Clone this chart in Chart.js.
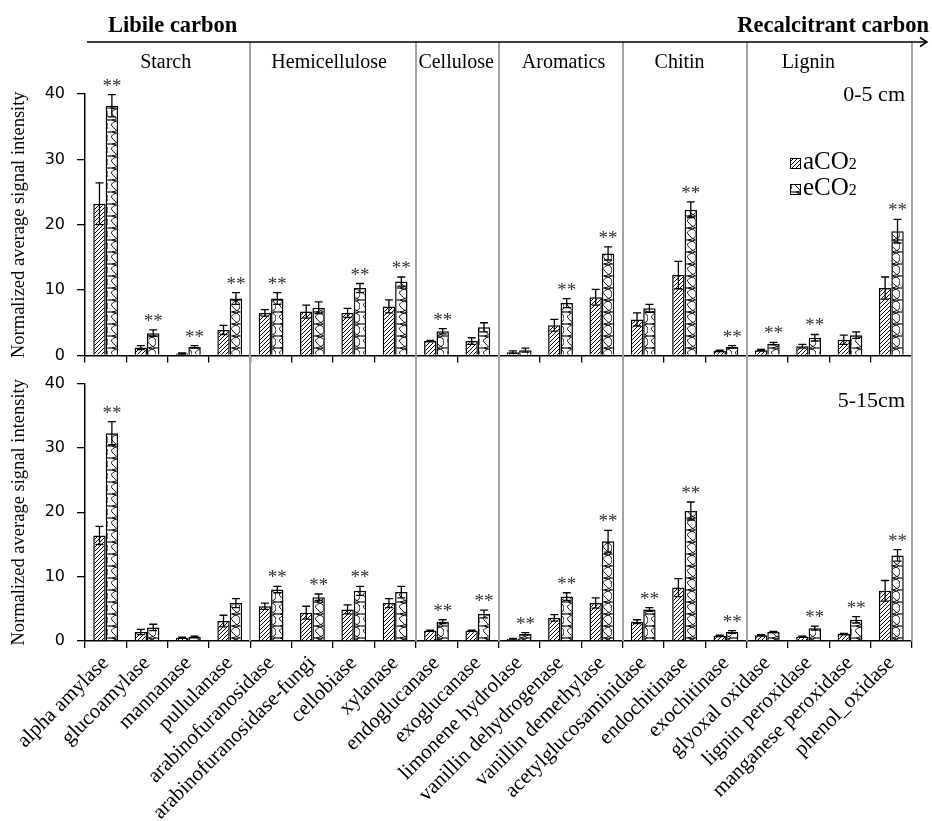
<!DOCTYPE html>
<html>
<head>
<meta charset="utf-8">
<script src="https://cdn.jsdelivr.net/npm/chart.js@4.4.1/dist/chart.umd.min.js"></script>
<style>
  body { margin: 0; background: #fff; }
  #wrap { position: relative; width: 932px; height: 821px; }
  canvas { position: absolute; left: 0; }
</style>
</head>
<body>
<div id="wrap">
  <!-- top canvas runs 15px under the bottom one: the y tick padding reserves that much below the axis -->
  <canvas id="topChart" width="932" height="377" style="top:0;width:932px;height:377px"></canvas>
  <canvas id="bottomChart" width="932" height="459" style="top:362px;width:932px;height:459px"></canvas>
</div>
<script>
const enzymes = ["alpha amylase", "glucoamylase", "mannanase", "pullulanase",
  "arabinofuranosidase", "arabinofuranosidase-fungi", "cellobiase", "xylanase",
  "endoglucanase", "exoglucanase",
  "limonene hydrolase", "vanillin dehydrogenase", "vanillin demethylase",
  "acetylglucosaminidase", "endochitinase", "exochitinase",
  "glyoxal oxidase", "lignin peroxidase", "manganese peroxidase", "phenol_oxidase"];
const groups = ["Starch", "Hemicellulose", "Cellulose", "Aromatics", "Chitin", "Lignin"];
const groupSizes = [4, 4, 2, 3, 3, 4];
const seriesNames = ["aCO", "eCO"];   // subscript 2 drawn separately

// 0-5 cm
const aco2Top    = [23.2, 1.2, 0.3, 3.9, 6.5, 6.7, 6.5, 7.5, 2.2, 2.2, 0.5, 4.6, 8.9, 5.5, 12.3, 0.7, 0.8, 1.4, 2.4, 10.3];
const aco2TopErr = [3.2, 0.3, 0.1, 0.7, 0.5, 1.0, 0.7, 1.0, 0.1, 0.5, 0.2, 0.9, 1.2, 1.0, 2.1, 0.1, 0.1, 0.3, 0.7, 1.7];
const eco2Top    = [38.2, 3.4, 1.3, 8.7, 8.7, 7.3, 10.3, 11.3, 3.7, 4.3, 0.8, 8.0, 15.6, 7.2, 22.3, 1.3, 1.8, 2.7, 3.1, 19.0];
const eco2TopErr = [1.7, 0.5, 0.2, 0.9, 0.9, 0.9, 0.7, 0.7, 0.4, 0.7, 0.3, 0.7, 1.0, 0.6, 1.2, 0.2, 0.2, 0.5, 0.5, 1.8];
const sigTop     = [1, 1, 1, 1, 1, 0, 1, 1, 1, 0, 0, 1, 1, 0, 1, 1, 1, 1, 0, 1];

// 5-15 cm
const aco2Bot    = [16.4, 1.4, 0.5, 3.1, 5.4, 4.4, 4.9, 5.9, 1.6, 1.6, 0.35, 3.6, 5.9, 3.0, 8.3, 0.8, 0.9, 0.65, 1.1, 7.8];
const aco2BotErr = [1.4, 0.4, 0.1, 0.9, 0.5, 1.0, 0.7, 0.7, 0.1, 0.1, 0.05, 0.5, 0.8, 0.3, 1.4, 0.1, 0.1, 0.1, 0.1, 1.6];
const eco2Bot    = [32.3, 2.1, 0.65, 5.9, 8.0, 6.8, 7.8, 7.6, 3.0, 4.2, 1.1, 6.9, 15.5, 4.9, 20.2, 1.4, 1.4, 2.0, 3.3, 13.3];
const eco2BotErr = [1.8, 0.5, 0.1, 0.7, 0.5, 0.5, 0.7, 0.9, 0.3, 0.6, 0.2, 0.6, 1.7, 0.3, 1.4, 0.2, 0.1, 0.3, 0.5, 0.9];
const sigBot     = [1, 0, 0, 0, 1, 1, 1, 0, 1, 1, 1, 1, 1, 1, 1, 1, 0, 1, 1, 1];

const serif = "'Liberation Serif', 'Times New Roman', serif";
Chart.defaults.font.family = serif;
Chart.defaults.color = '#000';

// fill patterns
function hatchPattern() {
    const c = document.createElement('canvas');
    c.width = 4; c.height = 4;
    const g = c.getContext('2d');
    g.fillStyle = '#fff'; g.fillRect(0, 0, 4, 4);
    g.strokeStyle = '#000'; g.lineWidth = 1;
    g.beginPath();
    g.moveTo(0, 4); g.lineTo(4, 0);
    g.moveTo(-1, 1); g.lineTo(1, -1);
    g.moveTo(3, 5); g.lineTo(5, 3);
    g.stroke();
    return g.createPattern(c, 'repeat');
}
function wavePattern() {
    const c = document.createElement('canvas');
    c.width = 12; c.height = 12;
    const g = c.getContext('2d');
    g.fillStyle = '#fff'; g.fillRect(0, 0, 12, 12);
    g.strokeStyle = '#000'; g.lineWidth = 1;
    g.beginPath();
    // S-shaped waves, mirrored every half tile
    g.moveTo(0, 0); g.bezierCurveTo(10, 0, 12, 3, 12, 6); g.bezierCurveTo(12, 9, 10, 12, 0, 12);
    g.moveTo(12, 0); g.bezierCurveTo(6, 1, 2, 4, 4, 6); g.bezierCurveTo(6, 8, 8, 11, 12, 12);
    g.stroke();
    return g.createPattern(c, 'repeat');
}
const fills = [hatchPattern(), wavePattern()];

// ===============================
// error bars, ** marks, group separators
// ===============================
const panelDecor = {
    id: 'panelDecor',
    afterDatasetsDraw(chart, args, opts) {
        const ctx = chart.ctx;
        const x = chart.scales.x, y = chart.scales.y;
        const step = x.getPixelForValue(1) - x.getPixelForValue(0);
        ctx.save();

        // group separators
        ctx.strokeStyle = '#a3a3a3';
        ctx.lineWidth = 2;
        let idx = 0;
        groupSizes.forEach(n => {
            idx += n;
            const px = Math.round(x.getPixelForValue(idx - 1) + step / 2);
            ctx.beginPath();
            ctx.moveTo(px, opts.sepTop);
            ctx.lineTo(px, opts.sepBottom === 'area' ? chart.chartArea.bottom : opts.sepBottom);
            ctx.stroke();
        });

        // error bars
        ctx.strokeStyle = '#000';
        ctx.lineWidth = 1.3;
        [0, 1].forEach(d => {
            const meta = chart.getDatasetMeta(d);
            const vals = chart.data.datasets[d].data;
            const errs = opts.errors[d];
            meta.data.forEach((bar, i) => {
                const t = y.getPixelForValue(vals[i] + errs[i]);
                const b = y.getPixelForValue(Math.max(vals[i] - errs[i], 0));
                ctx.beginPath();
                ctx.moveTo(bar.x, t); ctx.lineTo(bar.x, b);
                ctx.moveTo(bar.x - 4, t); ctx.lineTo(bar.x + 4, t);
                ctx.moveTo(bar.x - 4, b); ctx.lineTo(bar.x + 4, b);
                ctx.stroke();
            });
        });

        // significance marks over the eCO2 bar
        ctx.fillStyle = '#333';
        ctx.font = '19px ' + serif;
        ctx.textAlign = 'center';
        ctx.textBaseline = 'alphabetic';
        const meta = chart.getDatasetMeta(1);
        const vals = chart.data.datasets[1].data;
        opts.sig.forEach((s, i) => {
            if (!s) return;
            const t = y.getPixelForValue(vals[i] + opts.errors[1][i]);
            ctx.fillText('**', meta.data[i].x, t - 3);
        });
        ctx.restore();
    },
    afterDraw(chart, args, opts) {
        const ctx = chart.ctx;
        ctx.save();
        ctx.fillStyle = '#000';
        ctx.textBaseline = 'alphabetic';

        // depth label
        ctx.font = '22px ' + serif;
        ctx.textAlign = 'right';
        ctx.fillText(opts.depth, 905, opts.depthY);

        if (opts.header) {
            const x = chart.scales.x;
            const step = x.getPixelForValue(1) - x.getPixelForValue(0);

            // arrow
            ctx.strokeStyle = '#000';
            ctx.lineWidth = 1.5;
            ctx.beginPath();
            ctx.moveTo(87, 42); ctx.lineTo(927, 42);
            ctx.moveTo(920, 37.5); ctx.lineTo(927, 42); ctx.lineTo(920, 46.5);
            ctx.stroke();

            ctx.font = 'bold 22.5px ' + serif;
            ctx.textAlign = 'left';
            ctx.fillText('Libile carbon', 108, 32);
            ctx.textAlign = 'right';
            ctx.fillText('Recalcitrant carbon', 929, 32);

            // group names
            const shift = [-2, -4, -1, 3, -5, -21];
            ctx.font = '20px ' + serif;
            ctx.textAlign = 'center';
            let start = 0;
            groups.forEach((g, k) => {
                const left = x.getPixelForValue(start) - step / 2;
                const right = x.getPixelForValue(start + groupSizes[k] - 1) + step / 2;
                ctx.fillText(g, (left + right) / 2 + shift[k], 68);
                start += groupSizes[k];
            });

            // legend
            ctx.textAlign = 'left';
            [158, 184].forEach((ly, k) => {
                ctx.fillStyle = fills[k];
                ctx.fillRect(790, ly, 10, 10);
                ctx.strokeStyle = '#000';
                ctx.lineWidth = 1;
                ctx.strokeRect(790.5, ly + 0.5, 10, 10);
                ctx.fillStyle = '#000';
                ctx.font = '25px ' + serif;
                ctx.fillText(seriesNames[k], 803, ly + 11);
                const w = ctx.measureText(seriesNames[k]).width;
                ctx.font = '16px ' + serif;
                ctx.fillText('2', 803 + w, ly + 11);
            });
        }
        ctx.restore();
    }
};

function makePanel(canvasId, aVals, eVals, aErr, eErr, sig, cfg) {
    return new Chart(document.getElementById(canvasId), {
        type: 'bar',
        data: {
            labels: enzymes,
            datasets: [
                { label: 'aCO2', data: aVals, backgroundColor: fills[0], borderColor: '#000', borderWidth: 1.5,
                  barPercentage: 1, categoryPercentage: 0.6 },
                { label: 'eCO2', data: eVals, backgroundColor: fills[1], borderColor: '#000', borderWidth: 1.5,
                  barPercentage: 1, categoryPercentage: 0.6 }
            ]
        },
        options: {
            responsive: false,
            animation: false,
            layout: { padding: { top: cfg.padTop, left: 4, right: 20, bottom: 0 } },
            scales: {
                x: {
                    grid: { drawOnChartArea: false, drawTicks: true, tickLength: 7, color: '#000', lineWidth: 1.3 },
                    border: { display: true, color: '#000', width: 1.5 },
                    ticks: {
                        display: cfg.showLabels,
                        autoSkip: false,
                        minRotation: 45,
                        maxRotation: 45,
                        padding: 3,
                        color: '#000',
                        font: { size: 21, family: serif }
                    },
                    afterFit: s => { s.height = cfg.xHeight; }
                },
                y: {
                    min: 0,
                    max: 40,
                    ticks: { stepSize: 10, padding: 12, color: '#000', font: { size: 16, family: "'DejaVu Sans', sans-serif" } },
                    grid: { drawOnChartArea: false, drawTicks: true, tickLength: 8, color: '#000', lineWidth: 1.3 },
                    border: { display: true, color: '#000', width: 1.5 },
                    title: {
                        display: true,
                        text: 'Normalized average signal intensity',
                        color: '#000',
                        font: { size: 18.5, family: serif }
                    },
                    afterFit: s => { s.width = 81; }
                }
            },
            plugins: {
                legend: { display: false },
                tooltip: { enabled: false },
                panelDecor: {
                    errors: [aErr, eErr],
                    sig: sig,
                    sepTop: cfg.sepTop,
                    sepBottom: cfg.sepBottom,
                    depth: cfg.depth,
                    depthY: cfg.depthY,
                    header: cfg.header
                }
            }
        },
        plugins: [panelDecor]
    });
}

// ===============================
// 0-5 cm panel
// ===============================
makePanel('topChart', aco2Top, eco2Top, aco2TopErr, eco2TopErr, sigTop, {
    padTop: 94, xHeight: 7, showLabels: false,
    sepTop: 42, sepBottom: 362, depth: '0-5 cm', depthY: 101, header: true
});

// ===============================
// 5-15 cm panel
// ===============================
makePanel('bottomChart', aco2Bot, eco2Bot, aco2BotErr, eco2BotErr, sigBot, {
    padTop: 21, xHeight: 180, showLabels: true,
    sepTop: 0, sepBottom: 'area', depth: '5-15cm', depthY: 45, header: false
});
</script>
</body>
</html>
